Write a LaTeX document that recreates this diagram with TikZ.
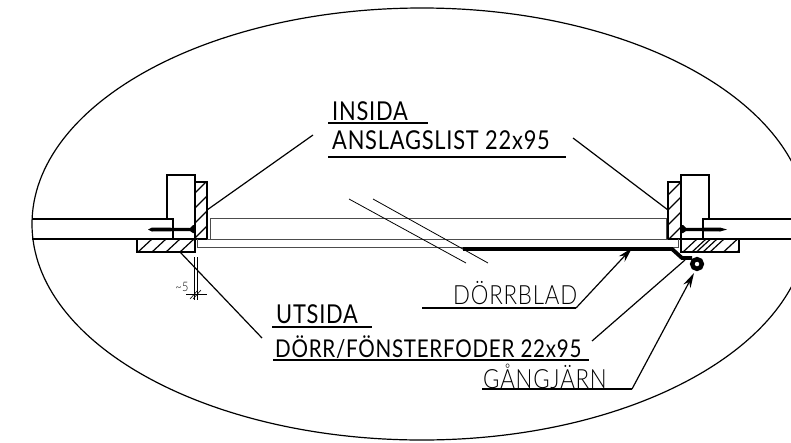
\documentclass[tikz,border=0pt]{standalone}
\usepackage{fontspec}
\usepackage{tikz}
\usetikzlibrary{positioning,arrows.meta}
\newfontfamily\ritfont[FakeStretch=0.84,LetterSpace=3]{Lato}
\newfontfamily\ritthin[FakeStretch=0.84,LetterSpace=3]{Lato Light}
\tikzset{
	thickline/.style={line width=1.5pt},
	midline/.style={line width=1.2pt},
	thinline/.style={line width=0.8pt,black!70},
	leader/.style={line width=1.2pt},
	arrowline/.style={line width=1.2pt,-{Stealth[length=15pt,width=8pt]}},
	bigtext/.style={inner sep=0pt,anchor=base west,font=\ritfont\fontsize{26}{26}\selectfont},
	lighttext/.style={inner sep=0pt,anchor=base west,font=\ritthin\fontsize{26.5}{26}\selectfont,black},
}
\begin{document}
\begin{tikzpicture}[x=1pt,y=-1pt]
	\useasboundingbox (0,0) rectangle (791,442);
	\clip (0,0) rectangle (791,442);
	\fill[white] (0,0) rectangle (791,442);
	\draw[midline] (422,8) arc[start angle=-90,delta angle=180,x radius=386,y radius=216]
		arc[start angle=90,delta angle=180,x radius=390,y radius=216];

	% hatched strips
	\begin{scope}
		\clip (137,239) rectangle (195,252);
		\foreach \i in {0,...,5}
		{
			\draw[midline] (\i*14+124,252) -- ++(14,-13);
		}
	\end{scope}
	\begin{scope}
		\clip (195,182) rectangle (207,239);
		\foreach \i in {-1,...,3}
		{
			\draw[midline] (195,\i*15+193) -- ++(12,-12);
		}
	\end{scope}
	\begin{scope}
		\clip (681,239) rectangle (739,252);
		\foreach \i in {0,...,4}
		{
			\draw[midline] (\i*13.5+683,252) -- ++(14,-13);
		}
		\draw[midline] (692,252) -- ++(14,-13);
		\draw[midline] (703,252) -- ++(14,-13);
	\end{scope}
	\begin{scope}
		\clip (668,182) rectangle (681,239);
		\foreach \i in {-1,...,3}
		{
			\draw[midline] (668,\i*15+195) -- ++(13,-13);
		}
	\end{scope}

	% walls and posts
	\draw[thickline] (32,219) -- (173,219) -- (173,239);
	\draw[thickline] (32,239) -- (195,239);
	\draw[thickline] (167,219) -- (167,175) -- (195,175) -- (195,252);
	\draw[midline] (195,182) -- (207,182) -- (207,239) -- (195,239);
	\draw[midline] (137,239) rectangle (195,252);
	\draw[thickline] (791,219) -- (703,219) -- (703,239);
	\draw[thickline] (791,239) -- (681,239);
	\draw[thickline] (709,219) -- (709,175) -- (681,175) -- (681,252);
	\draw[midline] (681,182) -- (668,182) -- (668,239) -- (681,239);
	\draw[midline] (681,239) rectangle (739,252);

	% door
	\draw[thinline] (210,239) -- (210,218) -- (666,218) -- (666,239);
	\draw[thinline] (207,239) -- (668,239);
	\draw[thinline] (197,239) -- (197,247) -- (678,247) -- (678,239);
	\draw[line width=3.8pt] (463,249) -- (672,249) -- (682,258) -- (692,258);
	\draw[line width=4.5pt,fill=white] (697,264) circle (4.8);
	\draw[line width=0.8pt] (349,199) -- (466,263);
	\draw[line width=0.8pt] (373,199) -- (488,263);

	% nails
	\fill (148,229.5) -- (152,227.5) -- (190,228) -- (193,225) -- (195,225) -- (195,233) -- (193,233) -- (190,231) -- (152,231.5) -- cycle;
	\fill (727,229.5) -- (720,227.5) -- (686,228) -- (683,225) -- (681,225) -- (681,233) -- (683,233) -- (686,231) -- (720,231.5) -- cycle;

	% measure
	\draw[line width=0.6pt] (194,257) -- (194,300);
	\draw[line width=0.6pt] (197,257) -- (197,300);
	\draw[line width=0.6pt] (186,294) -- (207,294);
	\draw[line width=0.6pt] (190,299) -- (198,290);
	\draw[line width=0.6pt] (193,299) -- (201,290);
	\node[inner sep=0pt] (matt) at (182,287) {\ritthin\fontsize{13}{13}\selectfont\textasciitilde5};

	% labels
	\node[bigtext] (insida) at (332,120) {INSIDA};
	\node[bigtext] (anslag) at (332,149) {ANSLAGSLIST 22x95};
	\node[bigtext] (utsida) at (276,323) {UTSIDA};
	\node[bigtext,font=\ritfont\fontsize{24.5}{26}\selectfont] (foder) at (275,357) {DÖRR/FÖNSTERFODER 22x95};
	\node[lighttext] (dorrblad) at (453,304) {DÖRRBLAD};
	\node[lighttext] (gangjarn) at (483,388) {GÅNGJÄRN};

	\coordinate (insidaL) at (328,123);
	\coordinate (insidaR) at (428,123);
	\coordinate (anslagL) at (328,157);
	\coordinate (anslagR) at (566,157);
	\coordinate (utsidaL) at (272,327);
	\coordinate (utsidaR) at (372,327);
	\coordinate (foderL) at (273,360);
	\coordinate (foderR) at (589,360);
	\coordinate (bladL) at (422,308);
	\coordinate (bladR) at (576,308);
	\coordinate (bladTip) at (632,248);
	\coordinate (jarnL) at (482,389);
	\coordinate (jarnR) at (632,389);
	\coordinate (jarnTip) at (694,273);
	\foreach \a/\b in {insidaL/insidaR,anslagL/anslagR,utsidaL/utsidaR,foderL/foderR,bladL/bladR,jarnL/jarnR}
	{
		\draw[leader] (\a) -- (\b);
	}

	% leaders
	\coordinate (listL) at (207,210);
	\coordinate (listLend) at (313,135);
	\coordinate (listR) at (668,210);
	\coordinate (listRend) at (573,138);
	\coordinate (fodL) at (180,252);
	\coordinate (fodLend) at (262,338);
	\coordinate (fodR) at (685,260);
	\coordinate (fodRend) at (592,341);
	\draw[leader] (listL) -- (listLend);
	\draw[leader] (listR) -- (listRend);
	\draw[leader] (fodL) -- (fodLend);
	\draw[leader] (fodR) -- (fodRend);
	\draw[arrowline] (bladR) -- (bladTip);
	\draw[arrowline] (jarnR) -- (jarnTip);
\end{tikzpicture}
\end{document}
